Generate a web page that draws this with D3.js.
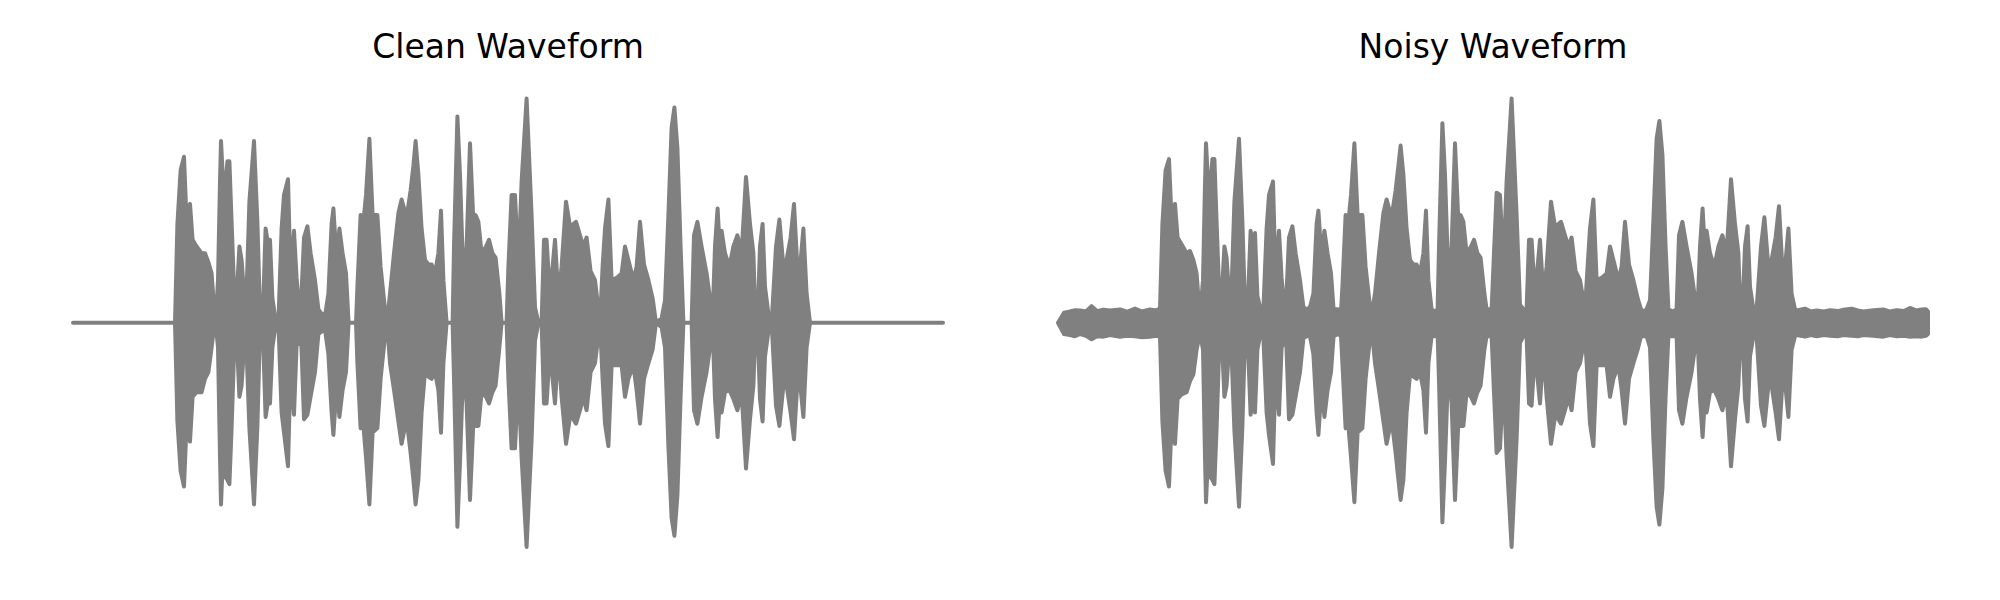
<!DOCTYPE html>
<html>
<head>
<meta charset="utf-8">
<script src="https://cdn.jsdelivr.net/npm/d3@7"></script>
<style>
  html, body { margin: 0; padding: 0; background: #ffffff; }
  svg { display: block; }
</style>
</head>
<body>
<script>
// ---------- DATA ----------
// Panel titles
const panelTitles = ["Clean Waveform", "Noisy Waveform"];

// Waveform envelope: [time (s), upper amplitude, lower amplitude]
const cleanEnvelope = [
  [0.000,0,0],[0.510,0,0],[0.522,0.44,-0.44],[0.538,0.68,-0.66],[0.555,0.74,-0.73],
  [0.568,0.45,-0.45],[0.585,0.53,-0.53],[0.598,0.37,-0.33],[0.618,0.34,-0.31],[0.643,0.31,-0.31],
  [0.660,0.31,-0.25],[0.677,0.27,-0.22],[0.693,0.22,-0.11],[0.705,0.07,-0.02],[0.713,0,0],
  [0.725,0.19,-0.11],[0.735,0.63,-0.60],[0.740,0.81,-0.81],[0.752,0.60,-0.55],[0.763,0.62,-0.69],
  [0.772,0.72,-0.70],[0.782,0.72,-0.72],[0.793,0.45,-0.47],[0.805,0.16,-0.14],[0.815,0.06,-0.05],
  [0.823,0.19,-0.15],[0.832,0.34,-0.33],[0.843,0.28,-0.28],[0.855,0.13,-0.11],[0.865,0.06,-0.05],
  [0.882,0.54,-0.47],[0.905,0.81,-0.81],[0.922,0.45,-0.46],[0.935,0.04,-0.03],[0.948,0,0],
  [0.963,0.42,-0.42],[0.977,0.34,-0.34],[0.985,0.37,-0.36],[0.997,0.11,-0.11],[1.010,0.03,-0.03],
  [1.027,0,0],[1.043,0.42,-0.40],[1.055,0.57,-0.49],[1.075,0.64,-0.64],[1.088,0.20,-0.20],
  [1.105,0.41,-0.41],[1.118,0.20,-0.10],[1.130,0.07,-0.09],[1.142,0.12,-0.10],[1.155,0.38,-0.43],
  [1.172,0.43,-0.41],[1.188,0.31,-0.33],[1.210,0.19,-0.22],[1.227,0.06,-0.05],[1.243,0.04,-0.04],
  [1.260,0.03,-0.03],[1.277,0.13,-0.14],[1.293,0.44,-0.40],[1.302,0.51,-0.50],[1.318,0.28,-0.28],
  [1.332,0.42,-0.42],[1.348,0.31,-0.30],[1.365,0.22,-0.22],[1.378,0,0],[1.415,0,0],
  [1.422,0.16,-0.18],[1.438,0.48,-0.47],[1.452,0.45,-0.46],[1.465,0.57,-0.60],[1.482,0.82,-0.81],
  [1.498,0.48,-0.49],[1.522,0.48,-0.47],[1.538,0.25,-0.25],[1.560,0.06,-0.06],[1.572,0.02,-0.02],
  [1.585,0.13,-0.18],[1.605,0.31,-0.30],[1.627,0.49,-0.44],[1.643,0.55,-0.54],[1.668,0.47,-0.43],
  [1.688,0.59,-0.58],[1.702,0.70,-0.70],[1.713,0.81,-0.81],[1.727,0.66,-0.70],[1.743,0.42,-0.40],
  [1.760,0.28,-0.22],[1.777,0.26,-0.24],[1.793,0.26,-0.25],[1.810,0.22,-0.22],[1.827,0.31,-0.30],
  [1.840,0.50,-0.49],[1.852,0.19,-0.18],[1.868,0,0],[1.898,0,0],[1.905,0.34,-0.25],
  [1.922,0.92,-0.91],[1.935,0.66,-0.62],[1.952,0.19,-0.18],[1.968,0.34,-0.36],[1.985,0.80,-0.79],
  [2.002,0.45,-0.44],[2.013,0.48,-0.46],[2.027,0.45,-0.46],[2.043,0.31,-0.31],[2.065,0.34,-0.33],
  [2.080,0.37,-0.36],[2.097,0.31,-0.31],[2.113,0.29,-0.28],[2.132,0.13,-0.11],[2.143,0,0],
  [2.168,0,0],[2.177,0.25,-0.25],[2.193,0.57,-0.56],[2.210,0.57,-0.56],[2.227,0.25,-0.25],
  [2.243,0.63,-0.60],[2.268,1.00,-1.00],[2.293,0.48,-0.52],[2.310,0.07,-0.08],[2.327,0,0],
  [2.343,0,0],[2.355,0.37,-0.36],[2.368,0.37,-0.36],[2.385,0.11,-0.11],[2.398,0.25,-0.25],
  [2.410,0.37,-0.36],[2.427,0.11,-0.11],[2.443,0.25,-0.33],[2.465,0.54,-0.54],[2.485,0.43,-0.42],
  [2.502,0.44,-0.43],[2.515,0.45,-0.45],[2.535,0.39,-0.39],[2.552,0.34,-0.33],[2.568,0.38,-0.39],
  [2.588,0.23,-0.22],[2.610,0.19,-0.18],[2.635,0,0],[2.648,0.25,-0.25],[2.660,0.42,-0.45],
  [2.677,0.55,-0.55],[2.693,0.19,-0.19],[2.718,0.20,-0.19],[2.743,0.22,-0.19],[2.760,0.34,-0.33],
  [2.777,0.28,-0.25],[2.802,0.19,-0.19],[2.818,0.25,-0.30],[2.835,0.45,-0.45],[2.855,0.26,-0.25],
  [2.877,0.19,-0.18],[2.898,0.11,-0.12],[2.915,0,0],[2.943,0.02,-0.02],[2.960,0.10,-0.11],
  [2.977,0.48,-0.55],[2.993,0.87,-0.87],[3.007,0.96,-0.95],[3.022,0.78,-0.77],[3.038,0.34,-0.33],
  [3.052,0,0],[3.093,0,0],[3.105,0.39,-0.39],[3.122,0.45,-0.45],[3.143,0.34,-0.33],
  [3.168,0.22,-0.22],[3.185,0.11,-0.11],[3.198,0.02,-0.02],[3.210,0.34,-0.34],[3.223,0.51,-0.51],
  [3.235,0.31,-0.33],[3.243,0.41,-0.40],[3.260,0.31,-0.31],[3.282,0.25,-0.30],[3.302,0.34,-0.34],
  [3.322,0.39,-0.39],[3.343,0.31,-0.31],[3.365,0.65,-0.65],[3.385,0.44,-0.43],[3.402,0.31,-0.28],
  [3.410,0.07,-0.08],[3.422,0,0],[3.435,0.34,-0.34],[3.448,0.44,-0.44],[3.460,0.16,-0.15],
  [3.477,0.04,-0.04],[3.493,0,0],[3.515,0.34,-0.37],[3.532,0.46,-0.46],[3.552,0.25,-0.28],
  [3.568,0.28,-0.28],[3.588,0.38,-0.40],[3.605,0.53,-0.52],[3.627,0.16,-0.19],[3.652,0.42,-0.42],
  [3.668,0.13,-0.11],[3.685,0,0],[4.350,0,0]
];

const noisyEnvelope = [
  [0.000,0.000,0.000],[0.030,0.045,-0.050],[0.060,0.050,-0.055],[0.085,0.056,-0.060],[0.110,0.055,-0.050],
  [0.140,0.050,-0.058],[0.168,0.074,-0.074],[0.195,0.052,-0.060],[0.227,0.058,-0.062],[0.260,0.055,-0.055],
  [0.310,0.059,-0.062],[0.345,0.049,-0.058],[0.385,0.063,-0.060],[0.420,0.050,-0.065],[0.460,0.059,-0.062],
  [0.490,0.055,-0.058],[0.510,0.063,-0.062],
  [0.522,0.44,-0.44],[0.538,0.68,-0.66],[0.555,0.73,-0.73],[0.568,0.46,-0.45],[0.585,0.53,-0.54],
  [0.598,0.38,-0.34],[0.618,0.35,-0.32],[0.643,0.31,-0.31],[0.660,0.32,-0.26],[0.677,0.28,-0.23],
  [0.693,0.22,-0.12],[0.705,0.08,-0.07],[0.713,0.06,-0.06],[0.725,0.19,-0.12],[0.735,0.62,-0.60],
  [0.740,0.80,-0.80],[0.752,0.60,-0.56],[0.763,0.62,-0.69],[0.772,0.73,-0.70],[0.782,0.73,-0.72],
  [0.793,0.45,-0.47],[0.805,0.16,-0.14],[0.815,0.07,-0.07],[0.823,0.19,-0.15],[0.832,0.34,-0.33],
  [0.843,0.29,-0.28],[0.855,0.13,-0.12],[0.865,0.07,-0.07],[0.882,0.54,-0.48],[0.905,0.82,-0.82],
  [0.922,0.45,-0.46],[0.935,0.07,-0.06],[0.948,0.06,-0.06],[0.963,0.41,-0.41],[0.977,0.34,-0.34],
  [0.985,0.40,-0.40],[0.997,0.12,-0.12],[1.010,0.07,-0.06],[1.027,0.06,-0.07],[1.043,0.42,-0.40],
  [1.055,0.57,-0.50],[1.075,0.63,-0.63],[1.088,0.20,-0.20],[1.105,0.41,-0.41],[1.118,0.20,-0.11],
  [1.130,0.08,-0.09],[1.142,0.12,-0.10],[1.155,0.38,-0.43],[1.172,0.43,-0.41],[1.188,0.31,-0.33],
  [1.210,0.19,-0.22],[1.227,0.07,-0.07],[1.243,0.06,-0.06],[1.260,0.07,-0.06],[1.277,0.13,-0.14],
  [1.293,0.44,-0.40],[1.302,0.50,-0.50],[1.318,0.28,-0.28],[1.332,0.41,-0.42],[1.348,0.31,-0.30],
  [1.365,0.22,-0.22],[1.378,0.06,-0.06],[1.400,0.06,-0.05],[1.415,0.05,-0.06],[1.422,0.16,-0.18],
  [1.438,0.48,-0.47],[1.452,0.45,-0.46],[1.465,0.57,-0.60],[1.482,0.80,-0.80],[1.498,0.48,-0.49],
  [1.522,0.48,-0.47],[1.538,0.25,-0.25],[1.560,0.07,-0.07],[1.572,0.06,-0.06],[1.585,0.13,-0.18],
  [1.605,0.31,-0.30],[1.627,0.49,-0.44],[1.643,0.55,-0.54],[1.668,0.47,-0.43],[1.688,0.59,-0.58],
  [1.702,0.70,-0.70],[1.713,0.79,-0.79],[1.727,0.66,-0.70],[1.743,0.42,-0.40],[1.760,0.28,-0.23],
  [1.777,0.26,-0.24],[1.793,0.26,-0.25],[1.810,0.22,-0.22],[1.827,0.31,-0.30],[1.840,0.50,-0.49],
  [1.852,0.19,-0.18],[1.868,0.06,-0.06],[1.885,0.05,-0.06],[1.898,0.06,-0.05],[1.905,0.34,-0.26],
  [1.922,0.89,-0.89],[1.935,0.66,-0.62],[1.952,0.19,-0.18],[1.968,0.34,-0.36],[1.985,0.80,-0.79],
  [2.002,0.45,-0.44],[2.013,0.48,-0.46],[2.027,0.45,-0.46],[2.043,0.31,-0.31],[2.065,0.34,-0.33],
  [2.080,0.37,-0.36],[2.097,0.31,-0.31],[2.113,0.29,-0.28],[2.132,0.13,-0.12],[2.143,0.06,-0.06],
  [2.168,0.06,-0.06],[2.177,0.25,-0.25],[2.193,0.58,-0.58],[2.210,0.57,-0.56],[2.227,0.25,-0.25],
  [2.243,0.63,-0.60],[2.268,1.00,-1.00],[2.293,0.48,-0.52],[2.310,0.08,-0.09],[2.327,0.06,-0.06],
  [2.343,0.06,-0.06],[2.355,0.37,-0.36],[2.368,0.37,-0.37],[2.385,0.12,-0.12],[2.398,0.25,-0.25],
  [2.410,0.37,-0.36],[2.427,0.12,-0.12],[2.443,0.25,-0.33],[2.465,0.54,-0.54],[2.485,0.43,-0.42],
  [2.502,0.44,-0.43],[2.515,0.45,-0.45],[2.535,0.39,-0.39],[2.552,0.34,-0.33],[2.568,0.38,-0.39],
  [2.588,0.23,-0.22],[2.610,0.19,-0.18],[2.635,0.06,-0.06],[2.648,0.25,-0.25],[2.660,0.42,-0.45],
  [2.677,0.55,-0.55],[2.693,0.19,-0.19],[2.718,0.20,-0.19],[2.743,0.22,-0.19],[2.760,0.34,-0.33],
  [2.777,0.28,-0.25],[2.802,0.19,-0.19],[2.818,0.25,-0.30],[2.835,0.45,-0.45],[2.855,0.26,-0.25],
  [2.877,0.19,-0.18],[2.898,0.11,-0.12],[2.915,0.06,-0.06],[2.930,0.05,-0.06],[2.943,0.06,-0.06],
  [2.960,0.10,-0.11],[2.977,0.46,-0.52],[2.993,0.82,-0.82],[3.007,0.90,-0.90],[3.022,0.75,-0.74],
  [3.038,0.34,-0.33],[3.052,0.06,-0.06],[3.075,0.05,-0.06],[3.093,0.06,-0.06],[3.105,0.39,-0.39],
  [3.122,0.45,-0.45],[3.143,0.34,-0.33],[3.168,0.22,-0.22],[3.185,0.11,-0.11],[3.198,0.06,-0.06],
  [3.210,0.34,-0.34],[3.223,0.51,-0.51],[3.235,0.31,-0.33],[3.243,0.41,-0.40],[3.260,0.31,-0.31],
  [3.282,0.25,-0.30],[3.302,0.34,-0.34],[3.322,0.39,-0.39],[3.343,0.31,-0.31],[3.365,0.64,-0.64],
  [3.385,0.44,-0.43],[3.402,0.31,-0.28],[3.410,0.08,-0.08],[3.422,0.06,-0.06],[3.435,0.34,-0.34],
  [3.448,0.43,-0.44],[3.460,0.16,-0.15],[3.477,0.06,-0.06],[3.493,0.06,-0.06],[3.515,0.34,-0.37],
  [3.532,0.47,-0.46],[3.552,0.25,-0.28],[3.568,0.28,-0.28],[3.588,0.38,-0.40],[3.605,0.52,-0.52],
  [3.627,0.16,-0.19],[3.652,0.42,-0.42],[3.668,0.13,-0.12],[3.685,0.06,-0.06],
  [3.693,0.055,-0.055],[3.735,0.063,-0.062],[3.765,0.050,-0.055],[3.793,0.055,-0.060],[3.830,0.050,-0.055],
  [3.860,0.056,-0.058],[3.900,0.052,-0.060],[3.927,0.058,-0.055],[3.968,0.063,-0.058],[4.000,0.055,-0.060],
  [4.027,0.050,-0.055],[4.077,0.056,-0.058],[4.127,0.059,-0.062],[4.160,0.050,-0.055],[4.193,0.056,-0.060],
  [4.230,0.052,-0.058],[4.260,0.066,-0.062],[4.290,0.055,-0.060],[4.318,0.059,-0.062],[4.340,0.060,-0.058],
  [4.350,0.050,-0.050]
];

const timeExtent = [0, 4.35];
const ampExtent = [-1, 1];

// ---------- LAYOUT ----------
const W = 2000, H = 600;
const panels = [
  { title: panelTitles[0], data: cleanEnvelope, x0: 73,   x1: 943 },
  { title: panelTitles[1], data: noisyEnvelope, x0: 1058, x1: 1928 }
];
const yTop = 98.5, yBottom = 547;
const color = "#808080";

const svg = d3.select("body").append("svg")
  .attr("width", W).attr("height", H)
  .attr("viewBox", `0 0 ${W} ${H}`);
svg.append("rect").attr("width", W).attr("height", H).attr("fill", "#ffffff");

const y = d3.scaleLinear().domain(ampExtent).range([yBottom, yTop]);

panels.forEach(p => {
  const x = d3.scaleLinear().domain(timeExtent).range([p.x0, p.x1]);
  const g = svg.append("g");

  const area = d3.area()
    .x(d => x(d[0]))
    .y0(d => y(d[2]))
    .y1(d => y(d[1]))
    .curve(d3.curveLinear);

  g.append("path")
    .datum(p.data)
    .attr("d", area)
    .attr("fill", color)
    .attr("stroke", color)
    .attr("stroke-width", 4)
    .attr("stroke-linejoin", "round")
    .attr("stroke-linecap", "round");

  svg.append("text")
    .attr("x", (p.x0 + p.x1) / 2)
    .attr("y", 57.5)
    .attr("text-anchor", "middle")
    .attr("font-family", "DejaVu Sans")
    .attr("font-size", 33)
    .attr("fill", "#000000")
    .text(p.title);
});
</script>
</body>
</html>
